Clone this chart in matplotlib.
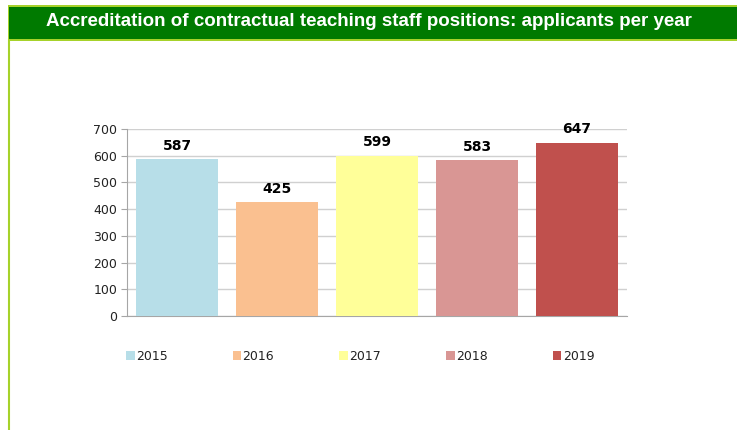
import matplotlib.pyplot as plt
from matplotlib.patches import Rectangle
from matplotlib.lines import Line2D

years = ['2015', '2016', '2017', '2018', '2019']
applicants = [587, 425, 599, 583, 647]
colors = ['#B7DEE8', '#FAC090', '#FFFF99', '#D99694', '#C0504D']
yticks = [0, 100, 200, 300, 400, 500, 600, 700]

W, H = 737, 430
fig = plt.figure(figsize=(W / 100, H / 100), dpi=100)
fig.patch.set_facecolor('white')

# Header banner with lime trim.
fig.patches.append(Rectangle((8 / W, 1 - 41 / H), 1, 36 / H, transform=fig.transFigure,
                             facecolor='#A6D22A', edgecolor='none'))
fig.patches.append(Rectangle((9 / W, 1 - 39 / H), 1, 32 / H, transform=fig.transFigure,
                             facecolor='#007A00', edgecolor='none'))
fig.lines.append(Line2D([8.5 / W, 8.5 / W], [0, 1 - 40 / H], transform=fig.transFigure,
                        color='#A6D22A', linewidth=1.5))
fig.text(369 / W, 1 - 22 / H, 'Accreditation of contractual teaching staff positions: applicants per year',
         color='white', fontsize=13.5, fontweight='bold', ha='center', va='center',
         family='Liberation Sans')

# Chart.
ax = fig.add_axes([127 / W, 1 - 316 / H, 500 / W, 187 / H])
bars = ax.bar(range(len(years)), applicants, width=0.82, color=colors, label=years, zorder=3)
for i, v in enumerate(applicants):
    ax.text(i, v + 25, str(v), ha='center', va='bottom', fontsize=10, fontweight='bold')

ax.set_xlim(-0.5, len(years) - 0.5)
ax.set_ylim(0, 700)
ax.set_yticks(yticks)
ax.tick_params(axis='y', labelsize=9, length=4, color='#A6A6A6', pad=3, labelcolor='#222222')
ax.set_xticks([])
ax.grid(axis='y', color='#D0D0D0', linewidth=1, zorder=0)
for s in ['top', 'right']:
    ax.spines[s].set_visible(False)
ax.spines['left'].set_color('#A6A6A6')
ax.spines['bottom'].set_color('#A6A6A6')

fig.legend(bars, years, loc='center', bbox_to_anchor=(360 / W, 1 - 356 / H), ncol=5,
           frameon=False, fontsize=9, handlelength=0.7, handleheight=0.7,
           handletextpad=0.1, columnspacing=5.2, labelcolor='#222222')

fig.savefig('out.png', dpi=100)
